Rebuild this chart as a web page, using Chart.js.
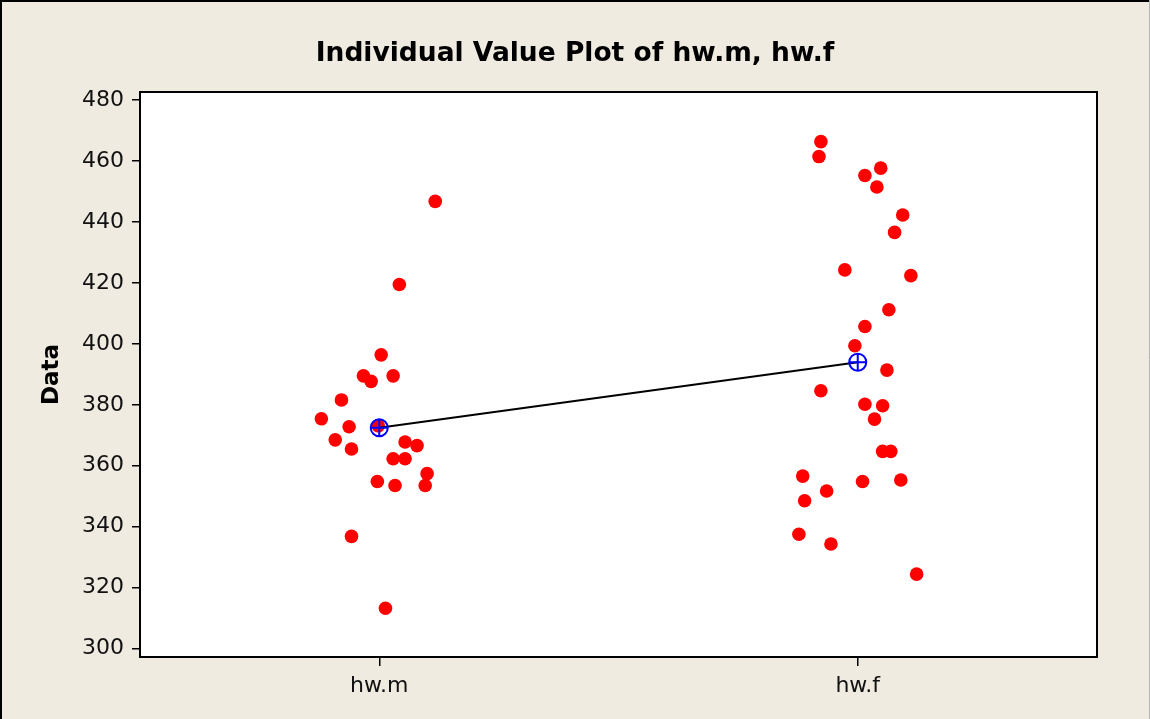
<!DOCTYPE html>
<html>
<head>
<meta charset="utf-8">
<title>Individual Value Plot of hw.m, hw.f</title>
<script src="https://cdn.jsdelivr.net/npm/chart.js@4.4.1/dist/chart.umd.min.js"></script>
<style>
  html, body { margin: 0; padding: 0; background: #efebe1; }
  canvas { display: block; }
</style>
</head>
<body>
<canvas id="plot" width="1150" height="719"></canvas>
<script>
const categories = ['hw.m', 'hw.f']
const yTicks = [300, 320, 340, 360, 380, 400, 420, 440, 460, 480]

// individual values per group
const hwM = [446.8, 419.5, 396.4, 389.5, 387.7, 389.5, 381.6, 375.4, 372.8, 373.1, 368.5,
             365.5, 367.8, 366.6, 362.3, 362.3, 357.4, 354.8, 353.5, 353.5, 336.8, 313.2]
const hwF = [466.4, 461.5, 457.7, 455.3, 451.5, 442.3, 436.6, 424.3, 422.4, 411.2, 405.7,
             399.4, 391.4, 384.6, 380.2, 379.7, 375.3, 364.7, 364.7, 356.6, 354.8, 355.3,
             351.7, 348.5, 337.5, 334.3, 324.4]

// horizontal jitter, in category units
const hwMJitter = [0.117, 0.042, 0.004, -0.033, -0.017, 0.029, -0.079, -0.121, -0.063, -0.002, -0.092,
                   -0.058, 0.054, 0.079, 0.029, 0.054, 0.100, -0.004, 0.033, 0.096, -0.058, 0.013]
const hwFJitter = [-0.077, -0.081, 0.048, 0.015, 0.040, 0.094, 0.077, -0.027, 0.111, 0.065, 0.015,
                   -0.006, 0.061, -0.077, 0.015, 0.052, 0.035, 0.052, 0.069, -0.115, 0.010, 0.090,
                   -0.065, -0.111, -0.123, -0.056, 0.123]

const mean = arr => arr.reduce((s, v) => s + v, 0) / arr.length

const groups = [hwM, hwF]
const jitters = [hwMJitter, hwFJitter]

const points = []
groups.forEach((vals, g) => {
    vals.forEach((v, i) => points.push({ x: g + 1 + jitters[g][i], y: v }))
})
const means = groups.map((vals, g) => ({ x: g + 1, y: mean(vals) }))

const FONT = "'DejaVu Sans', Tahoma, Verdana, sans-serif"
const BG = '#efebe1'

// beige page, white plot area, black frame
const framePlugin = {
    id: 'frame',
    beforeDraw(chart) {
        const { ctx, chartArea: a } = chart
        ctx.save()
        ctx.fillStyle = BG
        ctx.fillRect(0, 0, chart.width, chart.height)
        ctx.fillStyle = '#ffffff'
        ctx.fillRect(a.left, a.top, a.right - a.left, a.bottom - a.top)
        ctx.restore()
    },
    afterDraw(chart) {
        const { ctx, chartArea: a } = chart
        ctx.save()
        ctx.strokeStyle = '#000'
        ctx.lineWidth = 2
        ctx.strokeRect(a.left, a.top, a.right - a.left, a.bottom - a.top)
        // outer window edge
        ctx.lineWidth = 2
        ctx.beginPath()
        ctx.moveTo(1, chart.height)
        ctx.lineTo(1, 1)
        ctx.lineTo(chart.width, 1)
        ctx.stroke()
        ctx.strokeStyle = '#b4b4b4'
        ctx.lineWidth = 1
        ctx.beginPath()
        ctx.moveTo(chart.width - 0.5, 0)
        ctx.lineTo(chart.width - 0.5, chart.height)
        ctx.stroke()
        ctx.restore()
    }
}

new Chart(document.getElementById('plot'), {
    type: 'scatter',
    data: {
        datasets: [
            {
                label: 'Mean cross',
                data: means,
                pointStyle: 'cross',
                pointRadius: 8.5,
                pointBorderWidth: 2,
                pointBorderColor: '#0000ff',
                order: 0
            },
            {
                label: 'Mean',
                data: means,
                pointStyle: 'circle',
                pointRadius: 8.5,
                pointBorderWidth: 2,
                pointBorderColor: '#0000ff',
                pointBackgroundColor: 'rgba(0,0,0,0)',
                order: 1
            },
            {
                label: 'Mean connect',
                data: means,
                showLine: true,
                borderColor: '#000',
                borderWidth: 2,
                pointRadius: 0,
                order: 2
            },
            {
                label: 'Values',
                data: points,
                pointRadius: 6.8,
                pointBorderWidth: 0,
                pointBackgroundColor: '#ff0000',
                pointBorderColor: '#ff0000',
                order: 3
            }
        ]
    },
    options: {
        responsive: false,
        animation: false,
        layout: { padding: 0 },
        plugins: {
            legend: { display: false },
            tooltip: { enabled: false },
            title: {
                display: true,
                text: 'Individual Value Plot of hw.m, hw.f',
                color: '#000',
                font: { family: FONT, size: 26.5, weight: 'bold' },
                padding: { top: 38, bottom: 22.2 }
            }
        },
        scales: {
            x: {
                type: 'linear',
                min: 0.5,
                max: 2.5,
                afterBuildTicks: s => { s.ticks = categories.map((c, i) => ({ value: i + 1 })) },
                afterFit: s => { s.height = 62 },
                border: { display: false },
                grid: {
                    drawOnChartArea: false,
                    drawTicks: true,
                    tickLength: 9,
                    color: '#000',
                    lineWidth: 1.5
                },
                ticks: {
                    color: '#111',
                    padding: 7,
                    font: { family: FONT, size: 22 },
                    callback: v => categories[v - 1]
                }
            },
            y: {
                min: 297.2,
                max: 482.7,
                afterBuildTicks: s => { s.ticks = yTicks.map(v => ({ value: v })) },
                afterFit: s => { s.width = 140 },
                border: { display: false },
                grid: {
                    drawOnChartArea: false,
                    drawTicks: true,
                    tickLength: 8,
                    color: '#000',
                    lineWidth: 1.5
                },
                ticks: {
                    color: '#111',
                    padding: 8,
                    font: { family: FONT, size: 22 }
                },
                title: {
                    display: true,
                    text: 'Data',
                    color: '#000',
                    font: { family: FONT, size: 23, weight: 'bold' },
                    padding: { top: 38, bottom: 0 }
                }
            },
            // empty right-hand strip so the title stays centred on the page
            yRight: {
                type: 'linear',
                position: 'right',
                afterFit: s => { s.width = 53 },
                border: { display: false },
                grid: { display: false },
                ticks: { display: false }
            }
        }
    },
    plugins: [framePlugin]
})
</script>
</body>
</html>
